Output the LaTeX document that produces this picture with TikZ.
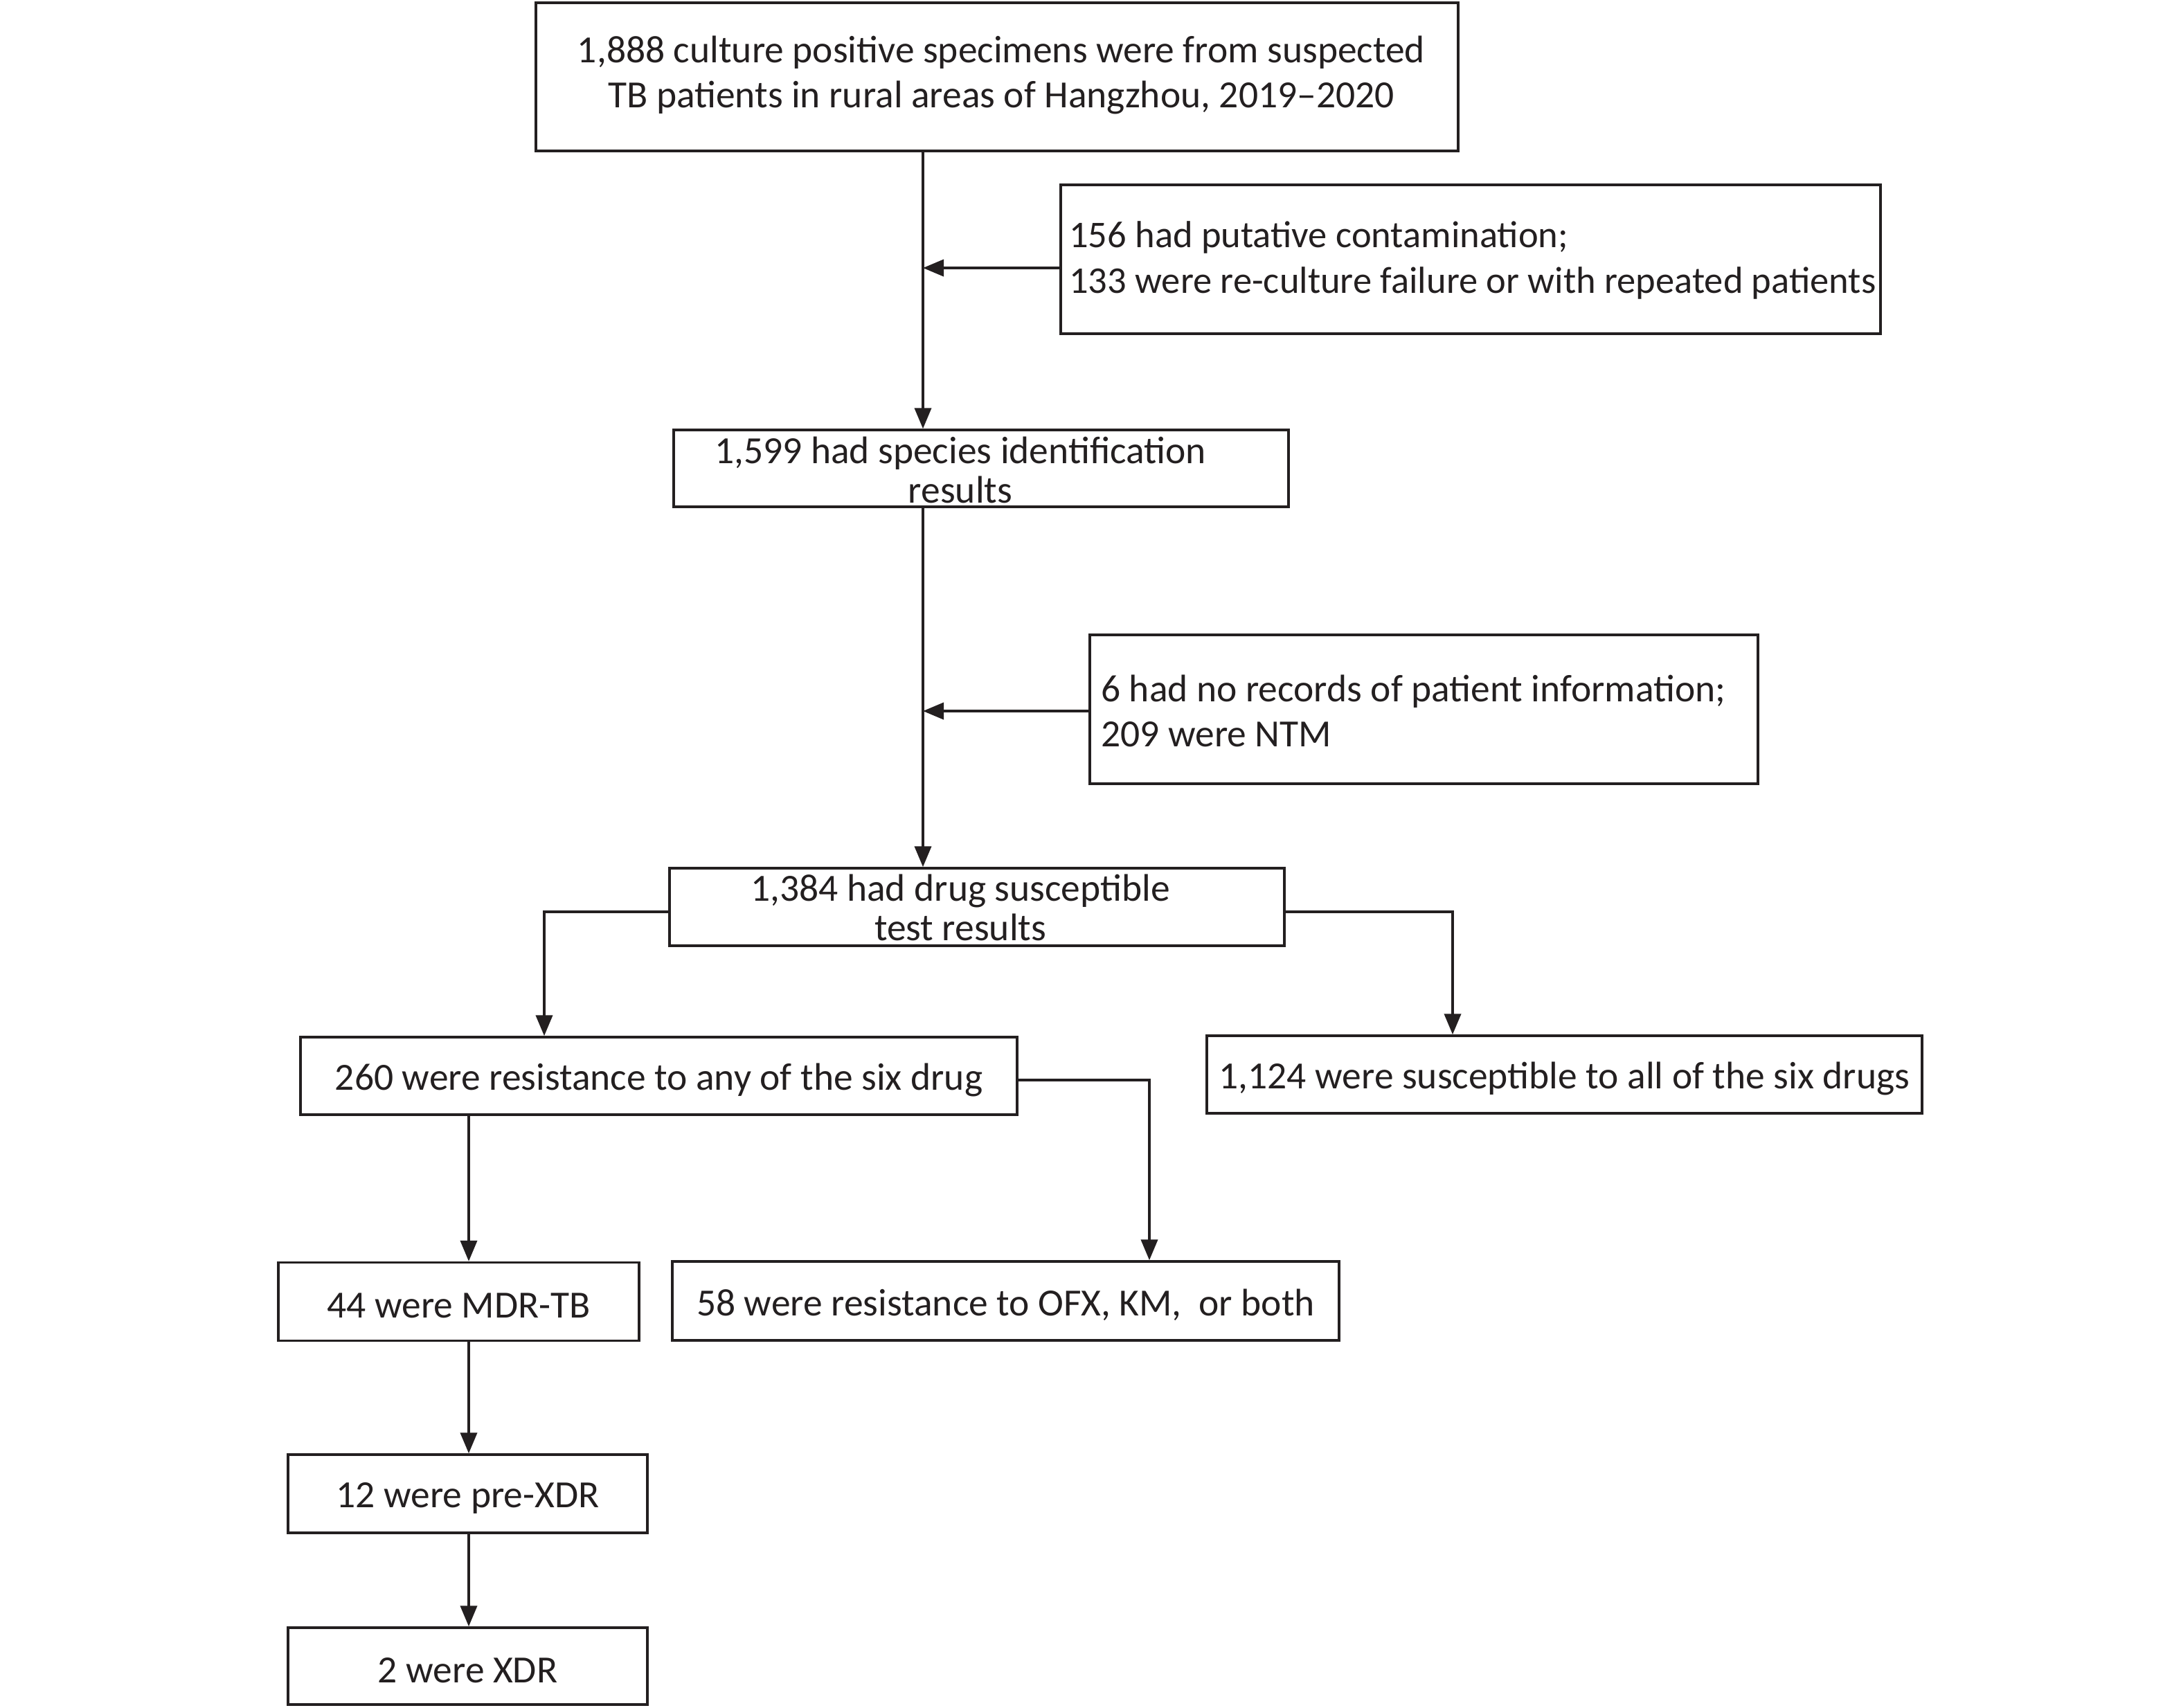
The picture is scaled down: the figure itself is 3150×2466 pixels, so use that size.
\documentclass[tikz,border=0pt]{standalone}
\usepackage{fontspec}
\setmainfont{Carlito}
\usetikzlibrary{arrows.meta,calc}
\definecolor{lc}{HTML}{231F20}
\begin{document}
\begin{tikzpicture}[x=1pt,y=-1pt,
  box/.style={draw=lc, line width=3.5pt, inner sep=0pt, rectangle},
  txt/.style={text=lc, font=\fontsize{55.5}{65}\selectfont, inner sep=0pt},
  tight/.style={font=\fontsize{55.5}{57}\selectfont},
  one/.style={yshift=-6pt},
  arr/.style={draw=lc, line width=4pt, -{Triangle[width=24pt,length=30pt]}}]
\useasboundingbox (0,0) rectangle (3150,2466);
% boxes
\node[box, minimum width=1332pt, minimum height=214pt] (b1) at (1440,111) {};
\node[box, minimum width=1184pt, minimum height=215pt] (b2) at (2124,374.5) {};
\node[box, minimum width=888pt, minimum height=111pt] (b3) at (1417,676.5) {};
\node[box, minimum width=965pt, minimum height=215pt] (b4) at (2056.5,1024.5) {};
\node[box, minimum width=888pt, minimum height=112pt] (b5) at (1411,1310) {};
\node[box, minimum width=1035pt, minimum height=112pt] (b6) at (951.5,1554) {};
\node[box, minimum width=1033pt, minimum height=112pt] (b7) at (2259.5,1552) {};
\node[box, minimum width=521pt, minimum height=113pt] (b8) at (662.5,1880) {};
\node[box, minimum width=963pt, minimum height=114pt] (b9) at (1452.5,1879) {};
\node[box, minimum width=519pt, minimum height=113pt] (b10) at (675.5,2157.5) {};
\node[box, minimum width=519pt, minimum height=111pt] (b11) at (675.5,2406.5) {};
% texts
\node[txt, align=center] (t1) at (1446,108) {1,888 culture positive specimens were from suspected\\TB patients in rural areas of Hangzhou, 2019\textendash 2020};
\node[txt, font=\fontsize{54.5}{66}\selectfont, align=left, anchor=west] (t2) at (1544,376) {156 had putative contamination;\\133 were re-culture failure or with repeated patients};
\node[txt, tight, align=center] (t3) at (1387,679) {1,599 had species identification\\results};
\node[txt, align=left, anchor=west] (t4) at (1590,1027) {6 had no records of patient information;\\209 were NTM};
\node[txt, tight, align=center] (t5) at (1387,1311) {1,384 had drug susceptible\\test results};
\node[txt, one] (t6) at (b6) {260 were resistance to any of the six drug};
\node[txt, one] (t7) at (b7) {1,124 were susceptible to all of the six drugs};
\node[txt, one] (t8) at (b8) {44 were MDR-TB};
\node[txt, one] (t9) at (b9) {58 were resistance to OFX, KM,\ \ or both};
\node[txt, one] (t10) at (b10) {12 were pre-XDR};
\node[txt, one] (t11) at (b11) {2 were XDR};
% connector coordinates
\coordinate (mx) at (1333,0);
\coordinate (j1) at (1333,387);
\coordinate (j2) at (1333,1027);
\coordinate (cl) at (786,1317);
\coordinate (cr) at (2098,1317);
\coordinate (c6) at (1660,1560);
\coordinate (cb) at (677,0);
% connectors
\draw[arr] (b1.south -| mx) -- (b3.north -| mx);
\draw[arr] (b2.west |- j1) -- (j1);
\draw[arr] (b3.south -| mx) -- (b5.north -| mx);
\draw[arr] (b4.west |- j2) -- (j2);
\draw[arr] (b5.west |- cl) -- (cl) -- (b6.north -| cl);
\draw[arr] (b5.east |- cr) -- (cr) -- (b7.north -| cr);
\draw[arr] (b6.east |- c6) -- (c6) -- (b9.north -| c6);
\draw[arr] (b6.south -| cb) -- (b8.north -| cb);
\draw[arr] (b8.south -| cb) -- (b10.north -| cb);
\draw[arr] (b10.south -| cb) -- (b11.north -| cb);
\end{tikzpicture}
\end{document}
